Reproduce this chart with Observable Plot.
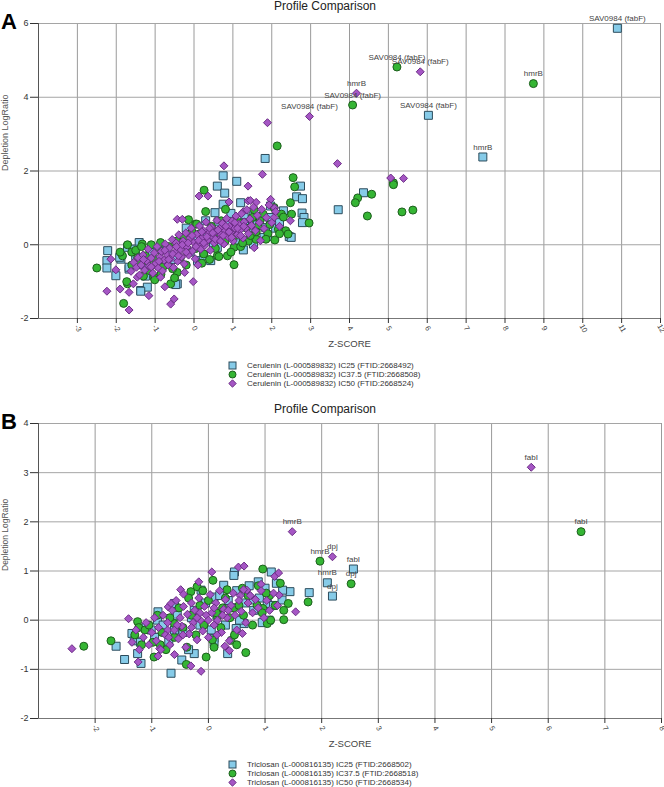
<!DOCTYPE html>
<html><head><meta charset="utf-8">
<script src="https://cdn.jsdelivr.net/npm/d3@7"></script>
<script src="https://cdn.jsdelivr.net/npm/@observablehq/plot@0.6"></script>
<style>
body{margin:0;background:#fff;font-family:Arial,"Liberation Sans",sans-serif;}
#wrap{position:relative;width:664px;height:787px;overflow:hidden;background:#fff;}
.abs{position:absolute;}
.title{left:0;width:650px;text-align:center;font-size:12px;line-height:12px;color:#222;}
.letter{font-size:22px;line-height:22px;font-weight:bold;color:#000;}
.leg{left:228px;font-size:8px;line-height:9px;color:#333;white-space:nowrap;}
.leg div{height:9px;display:flex;align-items:center;}
.leg svg{margin-right:10px;}
</style></head><body><div id="wrap"></div>
<script>
// ---------- Panel A : Cerulenin ----------
const cerLabels = ["Cerulenin (L-000589832) IC25 (FTID:2668492)","Cerulenin (L-000589832) IC37.5 (FTID:2668508)","Cerulenin (L-000589832) IC50 (FTID:2668524)"];
const cerXTicks = [-3,-2,-1,0,1,2,3,4,5,6,7,8,9,10,11,12];
const cerYTicks = [-2,0,2,4,6];
const cerIC25 = [[10.89,5.87],[6.03,3.51],[7.43,2.38],[4.36,1.41],[3.71,0.95],
 [1.83,2.34],[0.75,1.87],[1.10,1.72],[0.60,1.59],[0.79,1.40],[1.20,1.14],[0.75,1.10],[0.54,0.87],[1.97,1.05],[1.95,0.74],[2.10,0.45],[1.84,0.47],[1.29,0.74],[2.30,0.92],[2.64,1.30],[2.74,1.59],[2.79,1.25],[2.78,0.86],[2.83,0.74],[2.79,0.60],[2.45,0.22],[2.50,0.20],[1.89,0.22],[1.63,0.54],[1.52,0.78],[1.53,0.02],[1.27,-0.14],[1.07,0.05],[0.60,-0.07],[0.43,-0.43],[0.09,-0.43],[0.15,-0.48],[1.80,0.20],[0.95,0.85],[0.62,0.62],[0.85,0.48],
 [-0.43,-1.06],[-0.47,-1.08],[-1.37,-1.24],[-1.20,-1.15],[-1.37,-1.26],[-2.01,-0.84],[-2.22,-0.16],[-2.24,-0.43],[-2.24,-0.63],[-1.88,-0.39],[-1.91,-0.34],[-1.67,-0.66],[-1.67,-0.61],[-1.71,-0.07],[-1.41,0.06],[-0.86,-0.05],[-0.79,-0.12],
 [-1.50,-0.30],[-1.30,-0.55],[-1.10,-0.20],[-0.90,-0.55],[-0.70,-0.15],[-0.50,-0.40],[-0.30,0.05],[-0.10,-0.20],[0.10,0.15],[0.30,0.30],[0.50,0.05],[0.70,0.35],[0.90,0.55],[1.10,0.30],[1.30,0.60],[1.50,0.45],[1.70,0.75],[2.20,0.60],[0.30,0.65],[-0.20,0.45],[-1.55,-0.12],[-1.25,-0.85],[0.25,-0.30]];
const cerIC375 = [[5.22,4.82],[8.73,4.37],[4.08,3.79],[5.13,1.68],[5.13,1.63],[4.57,1.37],[4.21,1.27],[4.15,1.14],[4.46,0.78],[5.35,0.89],[5.63,0.94],
 [2.14,2.68],[0.26,1.48],[0.30,0.90],[-0.14,0.68],[0.04,0.56],[0.07,0.56],[0.81,0.96],[1.50,0.74],[1.78,0.83],[1.65,0.49],[2.06,1.01],[2.08,0.13],[2.25,0.83],[2.17,0.42],[2.36,0.38],[2.42,0.29],[2.55,1.82],[2.59,1.57],[2.48,1.14],[2.51,0.83],[2.96,0.59],[1.03,-0.54],[0.86,-0.30],[0.60,-0.30],[0.64,-0.32],[1.03,-0.07],[1.20,-0.05],[1.40,0.10],[1.60,0.15],[1.90,0.30],
 [-2.50,-0.63],[-1.81,-1.59],[-1.71,-1.06],[-1.73,-1.00],[-1.71,0.00],[-1.84,-0.30],[-1.60,-0.20],[-1.33,0.02],[-1.45,-0.35],[-1.20,-0.45],[-1.03,-0.88],[-1.01,-0.95],[-0.60,-1.06],[-0.43,-0.75],[-0.86,0.06],
 [-1.50,-0.15],[-1.40,-0.50],[-1.35,-0.05],[-1.25,-0.30],[-1.15,-0.70],[-1.10,0.00],[-1.00,-0.40],[-0.90,-0.15],[-0.85,-0.80],[-0.75,-0.50],[-0.65,-0.05],[-0.55,-0.65],[-0.45,0.10],[-0.35,-0.35],[-0.25,0.20],[-0.15,-0.20],[-0.05,0.35],[0.05,-0.10],[0.15,0.30],[0.25,-0.25],[0.35,0.15],[0.45,0.50],[0.55,-0.10],[0.65,0.30],[0.70,0.65],[0.80,0.10],[0.90,0.45],[0.95,-0.20],[1.05,0.25],[1.15,0.60],[1.25,0.05],[1.35,0.45],[1.45,0.25],[1.55,0.95],[1.60,0.35],[1.70,0.65],[1.85,0.15],[1.95,0.55],[2.20,0.30],[2.30,0.75],[0.40,-0.40],[0.20,-0.50],[-0.20,-0.55],[-0.50,-0.90],[-0.80,-0.60],[-1.30,-0.85],[-1.60,-0.55],[-1.90,-0.20]];
const cerIC50 = [[5.82,4.69],[4.18,4.11],[2.97,3.48],[3.69,2.20],[5.06,1.81],[5.39,1.80],
 [1.89,3.31],[0.77,2.14],[1.76,1.91],[1.39,1.59],[0.13,1.32],[0.36,1.32],[0.90,1.16],[1.39,1.19],[1.45,1.20],[1.60,1.15],[1.97,1.23],[1.27,0.90],[2.07,1.00],[2.06,0.74],[2.48,0.65],[-0.43,0.69],[-0.30,0.69],[1.71,0.11],[1.55,-0.08],
 [-2.24,-1.26],[-1.90,-1.20],[-1.67,-1.77],[-1.67,-1.29],[-1.16,-1.38],[-0.75,-1.14],[-0.60,-1.61],[-0.51,-1.47],[-0.02,-1.00],[0.10,-0.55],[-0.24,-0.75],[-2.14,-0.39],[-2.01,-0.68],[-1.46,-0.88],[-1.56,-1.06],[-0.86,-0.88],
 [-1.62,-0.72],[-1.55,-0.48],[-1.48,-0.61],[-1.44,-0.35],[-1.40,-0.82],[-1.36,-0.55],[-1.31,-0.28],[-1.27,-0.69],[-1.22,-0.44],[-1.18,-0.12],[-1.15,-0.58],[-1.10,-0.36],[-1.06,-0.77],[-1.02,-0.22],[-0.98,-0.50],[-0.95,-0.05],[-0.92,-0.63],[-0.88,-0.33],[-0.84,-0.18],[-0.81,-0.71],[-0.77,-0.42],[-0.74,0.02],[-0.70,-0.26],[-0.67,-0.55],[-0.63,-0.09],[-0.60,-0.38],[-0.56,0.14],[-0.53,-0.62],[-0.49,-0.21],[-0.46,0.05],[-0.42,-0.45],[-0.39,0.27],[-0.35,-0.12],[-0.32,-0.33],[-0.28,0.10],[-0.25,-0.52],[-0.21,0.32],[-0.18,-0.06],[-0.14,-0.28],[-0.11,0.18],[-0.07,0.45],[-0.04,-0.17],[0.00,0.06],[0.03,-0.38],[0.07,0.28],[0.10,0.02],[0.14,0.51],[0.17,-0.12],[0.21,0.19],[0.24,0.38],[0.28,-0.02],[0.31,0.62],[0.35,0.12],[0.38,0.31],[0.42,-0.15],[0.45,0.48],[0.49,0.20],[0.52,0.05],[0.56,0.36],[0.59,0.66],[0.63,0.14],[0.66,0.44],[0.70,0.27],[0.73,0.58],[0.77,0.02],[0.80,0.38],[0.84,0.71],[0.87,0.22],[0.91,0.50],[0.94,0.33],[0.98,0.64],[1.01,0.10],[1.05,0.45],[1.08,0.78],[1.12,0.28],[1.15,0.56],[1.19,0.40],[1.22,0.84],[1.26,0.18],[1.29,0.62],[1.33,0.45],[1.36,0.95],[1.40,0.30],[1.44,0.70],[1.48,0.52],[1.53,1.02],[1.58,0.38],[1.63,0.80],[1.68,0.60],[1.74,0.96],[1.80,0.44],[1.86,0.74],[1.93,1.08],[2.00,0.60],[2.10,0.90],[2.20,0.50],
 [-1.30,-0.40],[-1.10,-0.60],[-0.90,-0.45],[-0.75,-0.15],[-0.65,-0.40],[-0.55,-0.25],[-0.45,-0.05],[-0.40,-0.30],[-0.30,0.00],[-0.20,-0.20],[-0.15,0.05],[-0.05,0.25],[0.05,-0.05],[0.12,0.12],[0.20,0.35],[0.25,0.05],[0.33,0.22],[0.40,0.45],[0.48,0.32],[0.55,0.15],[0.62,0.40],[0.68,0.10],[0.75,0.25],[0.82,0.50],[0.90,0.35],[0.97,0.20],[1.05,0.60],[1.12,0.45],[1.20,0.25],[1.28,0.50]];
const cerPointLabels = [[10.89,5.87,"SAV0984 (fabF)"],[5.22,4.82,"SAV0984 (fabF)"],[5.82,4.69,"SAV0984 (fabF)"],[8.73,4.37,"hmrB"],[4.18,4.11,"hmrB"],[4.08,3.79,"SAV0984 (fabF)"],[2.97,3.48,"SAV0984 (fabF)"],[6.03,3.51,"SAV0984 (fabF)"],[7.43,2.38,"hmrB"]];

// ---------- Panel B : Triclosan ----------
const triLabels = ["Triclosan (L-000816135) IC25 (FTID:2668502)","Triclosan (L-000816135) IC37.5 (FTID:2668518)","Triclosan (L-000816135) IC50 (FTID:2668534)"];
const triXTicks = [-2,-1,0,1,2,3,4,5,6,7,8];
const triYTicks = [-2,-1,0,1,2,3,4];
const triIC25 = [[2.10,0.76],[2.19,0.49],[2.56,1.04],
 [-1.63,-0.53],[-1.48,-0.80],[-1.19,-0.88],[-1.25,-0.68],[-1.35,-0.27],[-1.31,-0.42],[-0.66,-1.08],[-0.47,-0.81],[0.34,-0.68],[0.46,0.98],[0.45,0.91],[1.11,0.98],[1.44,0.58],[1.78,0.56],[0.88,0.78],[1.04,0.34],[1.07,0.00],[0.10,0.47],[0.27,0.71],[-0.89,0.17],[0.66,0.58],[1.31,0.61],[1.30,0.41],[-0.25,-0.68],[-0.13,0.61],[0.63,-0.07],[0.75,0.41],[0.49,-0.17],[0.10,-0.37],[-0.60,0.34],[-0.90,0.00],[-1.01,-0.20],
 [-1.20,-0.45],[-1.10,-0.15],[-0.95,-0.35],[-0.80,-0.10],[-0.70,-0.45],[-0.55,0.10],[-0.45,-0.25],[-0.35,-0.60],[-0.25,0.20],[-0.15,-0.10],[-0.05,0.35],[0.05,-0.20],[0.15,0.10],[0.20,0.50],[0.30,-0.10],[0.40,0.25],[0.50,0.60],[0.55,0.00],[0.65,0.35],[0.72,0.70],[0.80,0.20],[0.90,0.45],[0.95,-0.05],[1.00,0.65],[1.15,0.30],[1.20,0.75],[-0.60,-0.20],[-0.30,0.05],[0.10,-0.45],[0.35,0.40]];
const triIC375 = [[1.97,1.20],[2.52,0.74],[6.58,1.80],
 [-2.20,-0.53],[-1.72,-0.42],[-1.25,-0.03],[-1.23,-0.15],[-0.96,-0.75],[-0.39,-0.90],[-0.04,-0.75],[0.08,0.81],[-0.20,0.68],[-0.31,0.58],[0.33,0.62],[0.66,-0.66],[0.40,-0.41],[0.96,1.04],[0.88,0.70],[0.96,0.24],[1.04,-0.07],[1.08,0.50],[1.27,0.75],[1.41,0.34],[1.33,0.20],[1.33,0.01],[1.76,0.37],[-1.12,-0.20],[-0.60,-0.07],[0.16,0.07],[0.45,0.25],
 [-1.30,-0.30],[-1.18,-0.50],[-1.05,-0.10],[-0.98,-0.45],[-0.90,0.10],[-0.82,-0.25],[-0.75,-0.60],[-0.68,0.05],[-0.60,-0.35],[-0.52,0.25],[-0.45,-0.15],[-0.38,-0.55],[-0.30,0.10],[-0.22,-0.30],[-0.15,0.30],[-0.08,-0.10],[0.00,0.40],[0.07,-0.40],[0.14,0.15],[0.22,-0.15],[0.30,0.45],[0.38,0.05],[0.46,-0.30],[0.54,0.30],[0.62,0.10],[0.70,0.50],[0.78,-0.10],[0.86,0.30],[0.95,0.15],[1.02,0.55],[1.10,0.00],[1.18,0.30],[-0.35,0.45],[0.10,-0.55],[0.50,-0.50],[-0.85,-0.50],[0.25,0.25],[-0.10,0.60],[0.60,0.65]];
const triIC50 = [[1.48,1.80],[2.19,1.29],[5.70,3.11],
 [-2.41,-0.58],[-1.41,0.03],[-1.24,-0.85],[-0.89,-0.73],[-0.86,-0.58],[-0.31,-0.93],[-0.13,-1.04],[0.06,0.98],[0.53,1.08],[0.63,1.10],[1.17,0.89],[1.24,0.96],[1.54,0.17],[-0.49,0.62],[-0.44,0.53],[-0.17,0.78],[-0.71,0.27],[0.29,-0.53],[0.37,-0.62],[0.60,-0.27],[0.93,0.73],[1.25,0.51],[0.68,0.61],[0.56,0.50],[-0.72,-0.20],[-0.66,0.34],
 [-1.35,-0.45],[-1.28,-0.20],[-1.22,-0.60],[-1.15,-0.35],[-1.10,-0.05],[-1.05,-0.50],[-1.00,-0.25],[-0.95,0.05],[-0.92,-0.42],[-0.88,-0.15],[-0.84,-0.60],[-0.80,0.10],[-0.76,-0.30],[-0.72,-0.05],[-0.68,-0.50],[-0.64,0.20],[-0.60,-0.20],[-0.57,0.40],[-0.53,-0.38],[-0.50,0.05],[-0.47,-0.12],[-0.44,0.28],[-0.40,-0.55],[-0.37,0.12],[-0.34,-0.28],[-0.30,0.35],[-0.27,-0.05],[-0.24,0.20],[-0.20,-0.40],[-0.17,0.45],[-0.14,0.00],[-0.10,-0.22],[-0.07,0.28],[-0.04,0.10],[0.00,-0.35],[0.03,0.52],[0.06,0.15],[0.10,-0.10],[0.13,0.35],[0.16,0.00],[0.20,0.60],[0.23,-0.25],[0.27,0.22],[0.30,0.42],[0.33,0.05],[0.37,-0.42],[0.40,0.30],[0.44,0.55],[0.47,0.10],[0.50,-0.20],[0.54,0.40],[0.58,0.18],[0.62,0.62],[0.66,-0.05],[0.70,0.35],[0.74,0.50],[0.78,0.15],[0.83,0.42],[0.88,0.25],[0.93,0.60],[0.98,0.05],[1.03,0.40],[1.08,0.20],[1.15,0.55],[1.22,0.30],[-0.60,-0.70],[-0.45,-0.30],[-0.30,-0.15],[-0.15,0.15],[0.00,0.00],[0.10,0.25],[0.25,0.10],[0.35,0.20],[-0.55,-0.10],[-0.70,-0.35],[-0.20,0.05],[0.15,-0.30]];
const triPointLabels = [[1.48,1.80,"hmrB"],[2.19,1.29,"dpj"],[1.97,1.20,"hmrB"],[2.10,0.76,"hmrB"],[2.19,0.49,"dpj"],[2.56,1.04,"fabI"],[2.52,0.74,"dpj"],[5.70,3.11,"fabI"],[6.58,1.80,"fabI"]];

// ---------- styles ----------
const BLUE = {fill:"#86cbe8", stroke:"#2c4c5c"};
const GREEN = {fill:"#35b534", stroke:"#1d5e1d"};
const PURPLE = {fill:"#a556c4", stroke:"#6b2d85"};
const FONT = "Arial, 'Liberation Sans', sans-serif";

function panel(o){
  const xs = d => d[0], ys = d => d[1];
  return Plot.plot({
    width: 664, height: o.height,
    marginTop: o.mt, marginBottom: o.mb, marginLeft: o.ml, marginRight: o.mr,
    style: {fontFamily: FONT, background: "transparent", overflow: "visible"},
    x: {domain: o.xDomain},
    y: {domain: o.yDomain},
    marks: [
      Plot.gridX({ticks: o.xTicks, stroke: "#9a9a9a", strokeOpacity: 1, strokeWidth: 1}),
      Plot.gridY({ticks: o.yTicks, stroke: "#a5a5a5", strokeOpacity: 1, strokeWidth: 1}),
      Plot.ruleX([o.xDomain[0]], {stroke: "#555", strokeWidth: 1}),
      Plot.ruleY([o.yDomain[0]], {stroke: "#777", strokeWidth: 1}),
      Plot.axisY({ticks: o.yTicks, tickSize: 8, tickPadding: 2, fontSize: 9, label: null, color: "#333", tickFormat: d => String(d)}),
      Plot.axisX({ticks: o.xTicks, tickSize: 5, tickFormat: () => "", label: null, color: "#333"}),
      Plot.text(o.xTicks, {x: d => d, text: d => String(d), frameAnchor: "bottom", dy: 11, dx: -1.5, rotate: 60, fontSize: 7.5, fill: "#444"}),
      Plot.text(["Z-SCORE"], {frameAnchor: "bottom", dy: 28.5, fontSize: 9.5, fill: "#444"}),
      Plot.text(["Depletion LogRatio"], {frameAnchor: "left", dx: -33, rotate: -90, fontSize: o.yLabelSize, fill: "#555"}),
      Plot.dot(o.blue, {x: xs, y: ys, symbol: "square", r: 4.5, ...BLUE, strokeWidth: 1}),
      Plot.dot(o.green, {x: xs, y: ys, symbol: "circle", r: 4, ...GREEN, strokeWidth: 1}),
      Plot.dot(o.purple, {x: xs, y: ys, symbol: "diamond2", r: 3.6, ...PURPLE, strokeWidth: 1}),
      Plot.text(o.labels, {x: xs, y: ys, text: d => d[2], dy: -10, fontSize: 8, fill: "#444"})
    ]
  });
}

const wrap = document.getElementById("wrap");
function add(el, left, top){ el.style.position = "absolute"; el.style.left = left + "px"; el.style.top = top + "px"; wrap.appendChild(el); }
function div(cls, html, top, left){ const d = document.createElement("div"); d.className = "abs " + cls; d.innerHTML = html; d.style.top = top + "px"; if (left !== undefined) d.style.left = left + "px"; wrap.appendChild(d); return d; }

const marker = {
  square: (c) => `<svg width="9" height="9"><rect x="1" y="1" width="7" height="7" fill="${c.fill}" stroke="${c.stroke}" stroke-width="1"/></svg>`,
  circle: (c) => `<svg width="9" height="9"><circle cx="4.5" cy="4.5" r="3.5" fill="${c.fill}" stroke="${c.stroke}" stroke-width="1"/></svg>`,
  diamond: (c) => `<svg width="9" height="9"><path d="M4.5,0.8L8.2,4.5L4.5,8.2L0.8,4.5Z" fill="${c.fill}" stroke="${c.stroke}" stroke-width="1"/></svg>`
};
function legend(labels, top){
  const html = `<div>${marker.square(BLUE)}${labels[0]}</div><div>${marker.circle(GREEN)}${labels[1]}</div><div>${marker.diamond(PURPLE)}${labels[2]}</div>`;
  div("leg", html, top);
}

// Panel A
const plotA = panel({blue: cerIC25, green: cerIC375, purple: cerIC50, labels: cerPointLabels,
  xDomain: [-4, 12], yDomain: [-2, 6], xTicks: cerXTicks, yTicks: cerYTicks,
  height: 352, mt: 23, mb: 34, ml: 38, mr: 4, yLabelSize: 9});
add(plotA, 0, 0);
div("title", "Profile Comparison", 0);
div("letter", "A", 11, 1);
legend(cerLabels, 361);

// Panel B
const plotB = panel({blue: triIC25, green: triIC375, purple: triIC50, labels: triPointLabels,
  xDomain: [-3, 8], yDomain: [-2, 4], xTicks: triXTicks, yTicks: triYTicks,
  height: 352, mt: 23, mb: 34, ml: 38, mr: 3, yLabelSize: 8.5});
add(plotB, 0, 400);
div("title", "Profile Comparison", 403);
div("letter", "B", 411, 1);
legend(triLabels, 759.5);
</script></body></html>
